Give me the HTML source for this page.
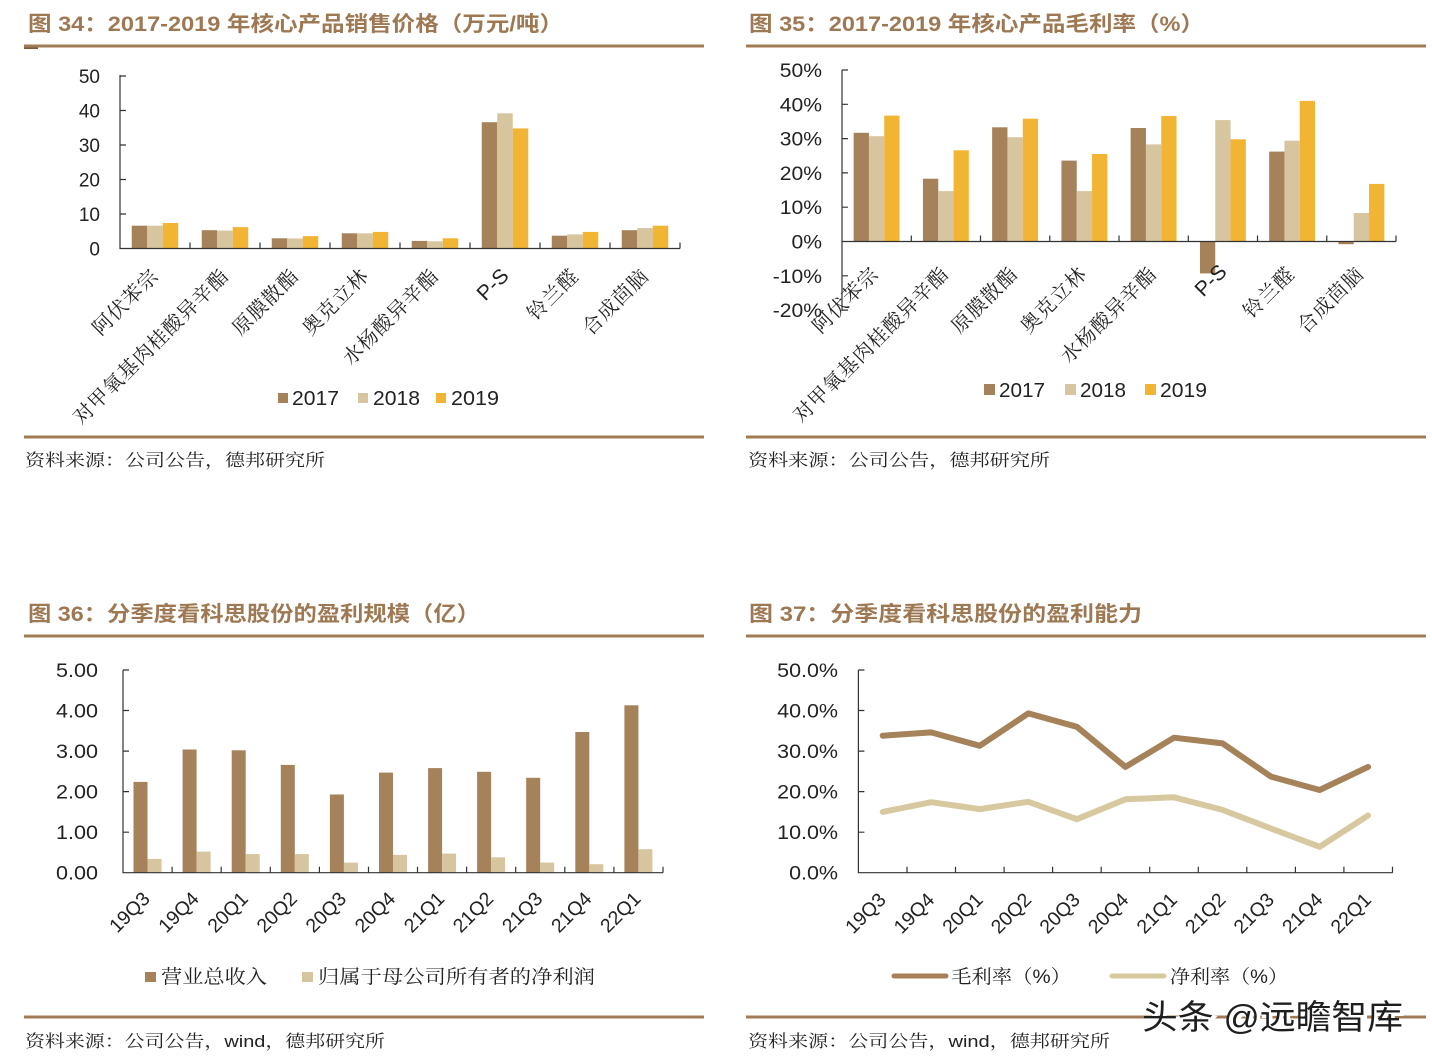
<!DOCTYPE html>
<html><head><meta charset="utf-8">
<style>
html,body{margin:0;padding:0;background:#fff;}
svg{display:block;}
.t{font-family:"Liberation Sans","Noto Sans CJK SC",sans-serif;font-weight:bold;fill:#9E7853;font-size:21px;}
.n{font-family:"Liberation Sans",sans-serif;font-size:19px;fill:#222;}
.c{font-family:"Liberation Sans","Noto Serif CJK SC",serif;font-size:20px;fill:#222;letter-spacing:1px;}
.s{font-family:"Liberation Sans","Noto Serif CJK SC",serif;font-size:17px;fill:#222;}
.lg{font-family:"Liberation Sans",sans-serif;font-size:20px;fill:#222;}
.lc{font-family:"Liberation Sans","Noto Serif CJK SC",serif;font-size:19px;fill:#222;}
</style></head>
<body>
<svg width="1432" height="1064" viewBox="0 0 1432 1064" xmlns="http://www.w3.org/2000/svg">
<rect width="1432" height="1064" fill="#fff"/>

<!-- ============ Titles & rules ============ -->
<text class="t" x="28" y="31" textLength="535" lengthAdjust="spacingAndGlyphs">图 34：2017-2019 年核心产品销售价格（万元/吨）</text>
<text class="t" x="749" y="31" textLength="455" lengthAdjust="spacingAndGlyphs">图 35：2017-2019 年核心产品毛利率（%）</text>
<text class="t" x="28" y="621" textLength="452" lengthAdjust="spacingAndGlyphs">图 36：分季度看科思股份的盈利规模（亿）</text>
<text class="t" x="749" y="621" textLength="393" lengthAdjust="spacingAndGlyphs">图 37：分季度看科思股份的盈利能力</text>

<g fill="#A07B55">
<rect x="24" y="44.5" width="680" height="3"/>
<rect x="746" y="44.5" width="680" height="3"/>
<rect x="24" y="435.5" width="680" height="3"/>
<rect x="746" y="435.5" width="680" height="3"/>
<rect x="24" y="634.5" width="680" height="3"/>
<rect x="746" y="634.5" width="680" height="3"/>
<rect x="24" y="1015.5" width="680" height="3"/>
<rect x="746" y="1015.5" width="680" height="3"/>
</g>
<rect x="24" y="47.5" width="14" height="1.5" fill="#7a5a3a"/>

<text class="s" x="25" y="466" textLength="300" lengthAdjust="spacingAndGlyphs">资料来源：公司公告，德邦研究所</text>
<text class="s" x="748" y="466" textLength="302" lengthAdjust="spacingAndGlyphs">资料来源：公司公告，德邦研究所</text>
<text class="s" x="25" y="1047" textLength="360" lengthAdjust="spacingAndGlyphs">资料来源：公司公告，wind，德邦研究所</text>
<text class="s" x="748" y="1047" textLength="362" lengthAdjust="spacingAndGlyphs">资料来源：公司公告，wind，德邦研究所</text>

<!-- ============ Chart 34 ============ -->
<g class="n" text-anchor="end">
<text x="100" y="83">50</text>
<text x="100" y="117.5">40</text>
<text x="100" y="152">30</text>
<text x="100" y="186.5">20</text>
<text x="100" y="221">10</text>
<text x="100" y="255.5">0</text>
</g>
<g>
<rect x="131.75" y="225.7" width="15.5" height="22.8" fill="#A5825A"/>
<rect x="147.25" y="225.7" width="15.5" height="22.8" fill="#D6C59E"/>
<rect x="162.75" y="223.0" width="15.5" height="25.5" fill="#F2B533"/>
<rect x="201.75" y="230.2" width="15.5" height="18.3" fill="#A5825A"/>
<rect x="217.25" y="230.6" width="15.5" height="17.9" fill="#D6C59E"/>
<rect x="232.75" y="227.1" width="15.5" height="21.4" fill="#F2B533"/>
<rect x="271.75" y="238.3" width="15.5" height="10.2" fill="#A5825A"/>
<rect x="287.25" y="238.5" width="15.5" height="10.0" fill="#D6C59E"/>
<rect x="302.75" y="236.1" width="15.5" height="12.4" fill="#F2B533"/>
<rect x="341.75" y="233.3" width="15.5" height="15.2" fill="#A5825A"/>
<rect x="357.25" y="233.3" width="15.5" height="15.2" fill="#D6C59E"/>
<rect x="372.75" y="231.9" width="15.5" height="16.6" fill="#F2B533"/>
<rect x="411.75" y="240.9" width="15.5" height="7.6" fill="#A5825A"/>
<rect x="427.25" y="241.3" width="15.5" height="7.2" fill="#D6C59E"/>
<rect x="442.75" y="238.3" width="15.5" height="10.2" fill="#F2B533"/>
<rect x="481.75" y="122.2" width="15.5" height="126.3" fill="#A5825A"/>
<rect x="497.25" y="113.3" width="15.5" height="135.2" fill="#D6C59E"/>
<rect x="512.75" y="128.4" width="15.5" height="120.1" fill="#F2B533"/>
<rect x="551.75" y="235.7" width="15.5" height="12.8" fill="#A5825A"/>
<rect x="567.25" y="234.4" width="15.5" height="14.1" fill="#D6C59E"/>
<rect x="582.75" y="231.9" width="15.5" height="16.6" fill="#F2B533"/>
<rect x="621.75" y="230.2" width="15.5" height="18.3" fill="#A5825A"/>
<rect x="637.25" y="228.1" width="15.5" height="20.4" fill="#D6C59E"/>
<rect x="652.75" y="225.7" width="15.5" height="22.8" fill="#F2B533"/>
</g>
<g stroke="#333" stroke-width="1.2" fill="none">
<path d="M120 75V248.5H680"/>
<path d="M120 76h6M120 110.5h6M120 145h6M120 179.5h6M120 214h6"/>
<path d="M190 248.5v-6M260 248.5v-6M330 248.5v-6M400 248.5v-6M470 248.5v-6M540 248.5v-6M610 248.5v-6M680 248.5v-6"/>
</g>
<g class="c" text-anchor="end">
<text transform="translate(160,277) rotate(-45)">阿伏苯宗</text>
<text transform="translate(230,277) rotate(-45)">对甲氧基肉桂酸异辛酯</text>
<text transform="translate(300,277) rotate(-45)">原膜散酯</text>
<text transform="translate(370,277) rotate(-45)">奥克立林</text>
<text transform="translate(440,277) rotate(-45)">水杨酸异辛酯</text>
<text transform="translate(580,277) rotate(-45)">铃兰醛</text>
<text transform="translate(650,277) rotate(-45)">合成茴脑</text>
</g>
<text class="lg" text-anchor="end" style="font-size:21px" transform="translate(510,277) rotate(-45)">P-S</text>
<rect x="278" y="393" width="10" height="10" fill="#A5825A"/>
<text class="lg" x="292" y="405" textLength="47" lengthAdjust="spacingAndGlyphs">2017</text>
<rect x="358" y="393" width="10" height="10" fill="#D6C59E"/>
<text class="lg" x="373" y="405" textLength="47" lengthAdjust="spacingAndGlyphs">2018</text>
<rect x="436" y="393" width="10" height="10" fill="#F2B533"/>
<text class="lg" x="451" y="405" textLength="48" lengthAdjust="spacingAndGlyphs">2019</text>

<!-- ============ Chart 35 ============ -->
<g class="n" text-anchor="end">
<text transform="translate(822,77) scale(1.11,1)">50%</text>
<text transform="translate(822,111.3) scale(1.11,1)">40%</text>
<text transform="translate(822,145.6) scale(1.11,1)">30%</text>
<text transform="translate(822,179.9) scale(1.11,1)">20%</text>
<text transform="translate(822,214.2) scale(1.11,1)">10%</text>
<text transform="translate(822,248.5) scale(1.11,1)">0%</text>
<text transform="translate(822,282.8) scale(1.11,1)">-10%</text>
<text transform="translate(822,317.1) scale(1.11,1)">-20%</text>
</g>
<g>
<rect x="853.65" y="132.8" width="15.3" height="108.7" fill="#A5825A"/>
<rect x="868.95" y="136.2" width="15.3" height="105.3" fill="#D6C59E"/>
<rect x="884.25" y="115.6" width="15.3" height="125.9" fill="#F2B533"/>
<rect x="922.95" y="178.7" width="15.3" height="62.8" fill="#A5825A"/>
<rect x="938.25" y="191.1" width="15.3" height="50.4" fill="#D6C59E"/>
<rect x="953.55" y="150.3" width="15.3" height="91.2" fill="#F2B533"/>
<rect x="992.15" y="127.3" width="15.3" height="114.2" fill="#A5825A"/>
<rect x="1007.45" y="137.2" width="15.3" height="104.3" fill="#D6C59E"/>
<rect x="1022.75" y="118.7" width="15.3" height="122.8" fill="#F2B533"/>
<rect x="1061.45" y="160.6" width="15.3" height="80.9" fill="#A5825A"/>
<rect x="1076.75" y="191.1" width="15.3" height="50.4" fill="#D6C59E"/>
<rect x="1092.05" y="154.0" width="15.3" height="87.5" fill="#F2B533"/>
<rect x="1130.65" y="128.0" width="15.3" height="113.5" fill="#A5825A"/>
<rect x="1145.95" y="144.4" width="15.3" height="97.1" fill="#D6C59E"/>
<rect x="1161.25" y="116.0" width="15.3" height="125.5" fill="#F2B533"/>
<rect x="1199.95" y="241.5" width="15.3" height="31.9" fill="#A5825A"/>
<rect x="1215.25" y="120.1" width="15.3" height="121.4" fill="#D6C59E"/>
<rect x="1230.55" y="139.3" width="15.3" height="102.2" fill="#F2B533"/>
<rect x="1269.15" y="151.6" width="15.3" height="89.9" fill="#A5825A"/>
<rect x="1284.45" y="140.7" width="15.3" height="100.8" fill="#D6C59E"/>
<rect x="1299.75" y="100.9" width="15.3" height="140.6" fill="#F2B533"/>
<rect x="1338.45" y="241.5" width="15.3" height="2.7" fill="#A5825A"/>
<rect x="1353.75" y="213.0" width="15.3" height="28.5" fill="#D6C59E"/>
<rect x="1369.05" y="183.9" width="15.3" height="57.6" fill="#F2B533"/>
</g>
<g stroke="#333" stroke-width="1.2" fill="none">
<path d="M842 70V311"/>
<path d="M842 241.5H1396"/>
<path d="M842 70h6M842 104.3h6M842 138.6h6M842 172.9h6M842 207.2h6M842 275.8h6M842 310.1h6"/>
<path d="M911.3 241.5v-6M980.5 241.5v-6M1049.8 241.5v-6M1119 241.5v-6M1188.3 241.5v-6M1257.5 241.5v-6M1326.8 241.5v-6M1396 241.5v-6"/>
</g>
<g class="c" text-anchor="end">
<text transform="translate(880,275) rotate(-45)">阿伏苯宗</text>
<text transform="translate(950,275) rotate(-45)">对甲氧基肉桂酸异辛酯</text>
<text transform="translate(1019,275) rotate(-45)">原膜散酯</text>
<text transform="translate(1088,275) rotate(-45)">奥克立林</text>
<text transform="translate(1158,275) rotate(-45)">水杨酸异辛酯</text>
<text transform="translate(1296,275) rotate(-45)">铃兰醛</text>
<text transform="translate(1365,275) rotate(-45)">合成茴脑</text>
</g>
<text class="lg" text-anchor="end" style="font-size:21px" transform="translate(1228,273) rotate(-45)">P-S</text>
<rect x="984" y="384" width="11" height="11" fill="#A5825A"/>
<text class="lg" x="999" y="397" textLength="46" lengthAdjust="spacingAndGlyphs">2017</text>
<rect x="1065" y="384" width="11" height="11" fill="#D6C59E"/>
<text class="lg" x="1080" y="397" textLength="46" lengthAdjust="spacingAndGlyphs">2018</text>
<rect x="1145" y="384" width="11" height="11" fill="#F2B533"/>
<text class="lg" x="1160" y="397" textLength="47" lengthAdjust="spacingAndGlyphs">2019</text>

<!-- ============ Chart 36 ============ -->
<g class="n" text-anchor="end">
<text transform="translate(98,677) scale(1.135,1)">5.00</text>
<text transform="translate(98,717.5) scale(1.135,1)">4.00</text>
<text transform="translate(98,758.1) scale(1.135,1)">3.00</text>
<text transform="translate(98,798.6) scale(1.135,1)">2.00</text>
<text transform="translate(98,839.2) scale(1.135,1)">1.00</text>
<text transform="translate(98,879.7) scale(1.135,1)">0.00</text>
</g>
<g fill="#A5825A">
<rect x="133.5" y="781.9" width="14" height="90.8"/>
<rect x="182.6" y="749.5" width="14" height="123.2"/>
<rect x="231.7" y="750.3" width="14" height="122.4"/>
<rect x="280.8" y="764.9" width="14" height="107.8"/>
<rect x="329.9" y="794.5" width="14" height="78.2"/>
<rect x="379.0" y="772.6" width="14" height="100.1"/>
<rect x="428.1" y="768.1" width="14" height="104.6"/>
<rect x="477.1" y="771.8" width="14" height="100.9"/>
<rect x="526.2" y="777.8" width="14" height="94.9"/>
<rect x="575.3" y="732.0" width="14" height="140.7"/>
<rect x="624.4" y="705.3" width="14" height="167.4"/>
</g>
<g fill="#D6C59E">
<rect x="147.5" y="858.9" width="14" height="13.8"/>
<rect x="196.6" y="851.6" width="14" height="21.1"/>
<rect x="245.7" y="854.1" width="14" height="18.6"/>
<rect x="294.8" y="854.1" width="14" height="18.6"/>
<rect x="343.9" y="862.6" width="14" height="10.1"/>
<rect x="393.0" y="854.9" width="14" height="17.8"/>
<rect x="442.1" y="853.6" width="14" height="19.1"/>
<rect x="491.1" y="857.3" width="14" height="15.4"/>
<rect x="540.2" y="862.6" width="14" height="10.1"/>
<rect x="589.3" y="864.2" width="14" height="8.5"/>
<rect x="638.4" y="849.2" width="14" height="23.5"/>
</g>
<g stroke="#333" stroke-width="1.2" fill="none">
<path d="M123 670V872.7H663"/>
<path d="M123 670h6M123 710.5h6M123 751.1h6M123 791.6h6M123 832.2h6"/>
<path d="M172.1 872.7v-6M221.2 872.7v-6M270.3 872.7v-6M319.4 872.7v-6M368.5 872.7v-6M417.5 872.7v-6M466.6 872.7v-6M515.7 872.7v-6M564.8 872.7v-6M613.9 872.7v-6M663 872.7v-6"/>
</g>
<g class="lg" text-anchor="end" style="font-size:19.5px">
<text transform="translate(151,900) rotate(-45)">19Q3</text>
<text transform="translate(200.1,900) rotate(-45)">19Q4</text>
<text transform="translate(249.2,900) rotate(-45)">20Q1</text>
<text transform="translate(298.3,900) rotate(-45)">20Q2</text>
<text transform="translate(347.4,900) rotate(-45)">20Q3</text>
<text transform="translate(396.5,900) rotate(-45)">20Q4</text>
<text transform="translate(445.6,900) rotate(-45)">21Q1</text>
<text transform="translate(494.6,900) rotate(-45)">21Q2</text>
<text transform="translate(543.7,900) rotate(-45)">21Q3</text>
<text transform="translate(592.8,900) rotate(-45)">21Q4</text>
<text transform="translate(641.9,900) rotate(-45)">22Q1</text>
</g>
<rect x="145" y="972" width="11" height="10" fill="#A5825A"/>
<text class="lc" x="161" y="983" textLength="106" lengthAdjust="spacingAndGlyphs">营业总收入</text>
<rect x="302" y="972" width="11" height="10" fill="#D6C59E"/>
<text class="lc" x="318" y="983" textLength="277" lengthAdjust="spacingAndGlyphs">归属于母公司所有者的净利润</text>

<!-- ============ Chart 37 ============ -->
<g class="n" text-anchor="end">
<text transform="translate(838,677) scale(1.13,1)">50.0%</text>
<text transform="translate(838,717.5) scale(1.13,1)">40.0%</text>
<text transform="translate(838,758.1) scale(1.13,1)">30.0%</text>
<text transform="translate(838,798.6) scale(1.13,1)">20.0%</text>
<text transform="translate(838,839.2) scale(1.13,1)">10.0%</text>
<text transform="translate(838,879.7) scale(1.13,1)">0.0%</text>
</g>
<g stroke="#333" stroke-width="1.2" fill="none">
<path d="M858.4 670V872.7H1392.5"/>
<path d="M858.4 670h6M858.4 710.5h6M858.4 751.1h6M858.4 791.6h6M858.4 832.2h6"/>
<path d="M907 872.7v-6M955.5 872.7v-6M1004.1 872.7v-6M1052.6 872.7v-6M1101.2 872.7v-6M1149.7 872.7v-6M1198.3 872.7v-6M1246.8 872.7v-6M1295.4 872.7v-6M1343.9 872.7v-6M1392.5 872.7v-6"/>
</g>
<polyline fill="none" stroke="#A5825A" stroke-width="6" stroke-linejoin="round" stroke-linecap="round"
 points="882.7,735.7 931.2,732.4 979.8,745.8 1028.3,713.4 1076.9,726.8 1125.4,766.9 1174.0,737.7 1222.5,743.4 1271.0,776.6 1319.6,790.0 1368.1,766.9"/>
<polyline fill="none" stroke="#D8C8A0" stroke-width="6" stroke-linejoin="round" stroke-linecap="round"
 points="882.7,811.9 931.2,802.2 979.8,809.1 1028.3,801.8 1076.9,819.2 1125.4,799.3 1174.0,797.3 1222.5,809.9 1271.0,828.5 1319.6,846.8 1368.1,815.5"/>
<g class="lg" text-anchor="end" style="font-size:19.5px">
<text transform="translate(887,901) rotate(-45)">19Q3</text>
<text transform="translate(935.5,901) rotate(-45)">19Q4</text>
<text transform="translate(984.1,901) rotate(-45)">20Q1</text>
<text transform="translate(1032.6,901) rotate(-45)">20Q2</text>
<text transform="translate(1081.2,901) rotate(-45)">20Q3</text>
<text transform="translate(1129.7,901) rotate(-45)">20Q4</text>
<text transform="translate(1178.3,901) rotate(-45)">21Q1</text>
<text transform="translate(1226.8,901) rotate(-45)">21Q2</text>
<text transform="translate(1275.3,901) rotate(-45)">21Q3</text>
<text transform="translate(1323.9,901) rotate(-45)">21Q4</text>
<text transform="translate(1372.4,901) rotate(-45)">22Q1</text>
</g>
<line x1="894" y1="976" x2="946" y2="976" stroke="#A5825A" stroke-width="5" stroke-linecap="round"/>
<text class="lc" x="951" y="983" textLength="120" lengthAdjust="spacingAndGlyphs">毛利率（%）</text>
<line x1="1112" y1="976" x2="1164" y2="976" stroke="#D8C8A0" stroke-width="5" stroke-linecap="round"/>
<text class="lc" x="1170" y="983" textLength="118" lengthAdjust="spacingAndGlyphs">净利率（%）</text>

<!-- watermark -->
<text x="1144" y="1031" textLength="261" lengthAdjust="spacingAndGlyphs" style="font-family:'Liberation Sans','Noto Sans CJK SC',sans-serif;font-size:34px;fill:#fff;stroke:#fff;stroke-width:3px">头条 @远瞻智库</text>
<text x="1142" y="1029" textLength="261" lengthAdjust="spacingAndGlyphs" style="font-family:'Liberation Sans','Noto Sans CJK SC',sans-serif;font-size:34px;fill:#1e1e1e">头条 @远瞻智库</text>
</svg>
</body></html>
